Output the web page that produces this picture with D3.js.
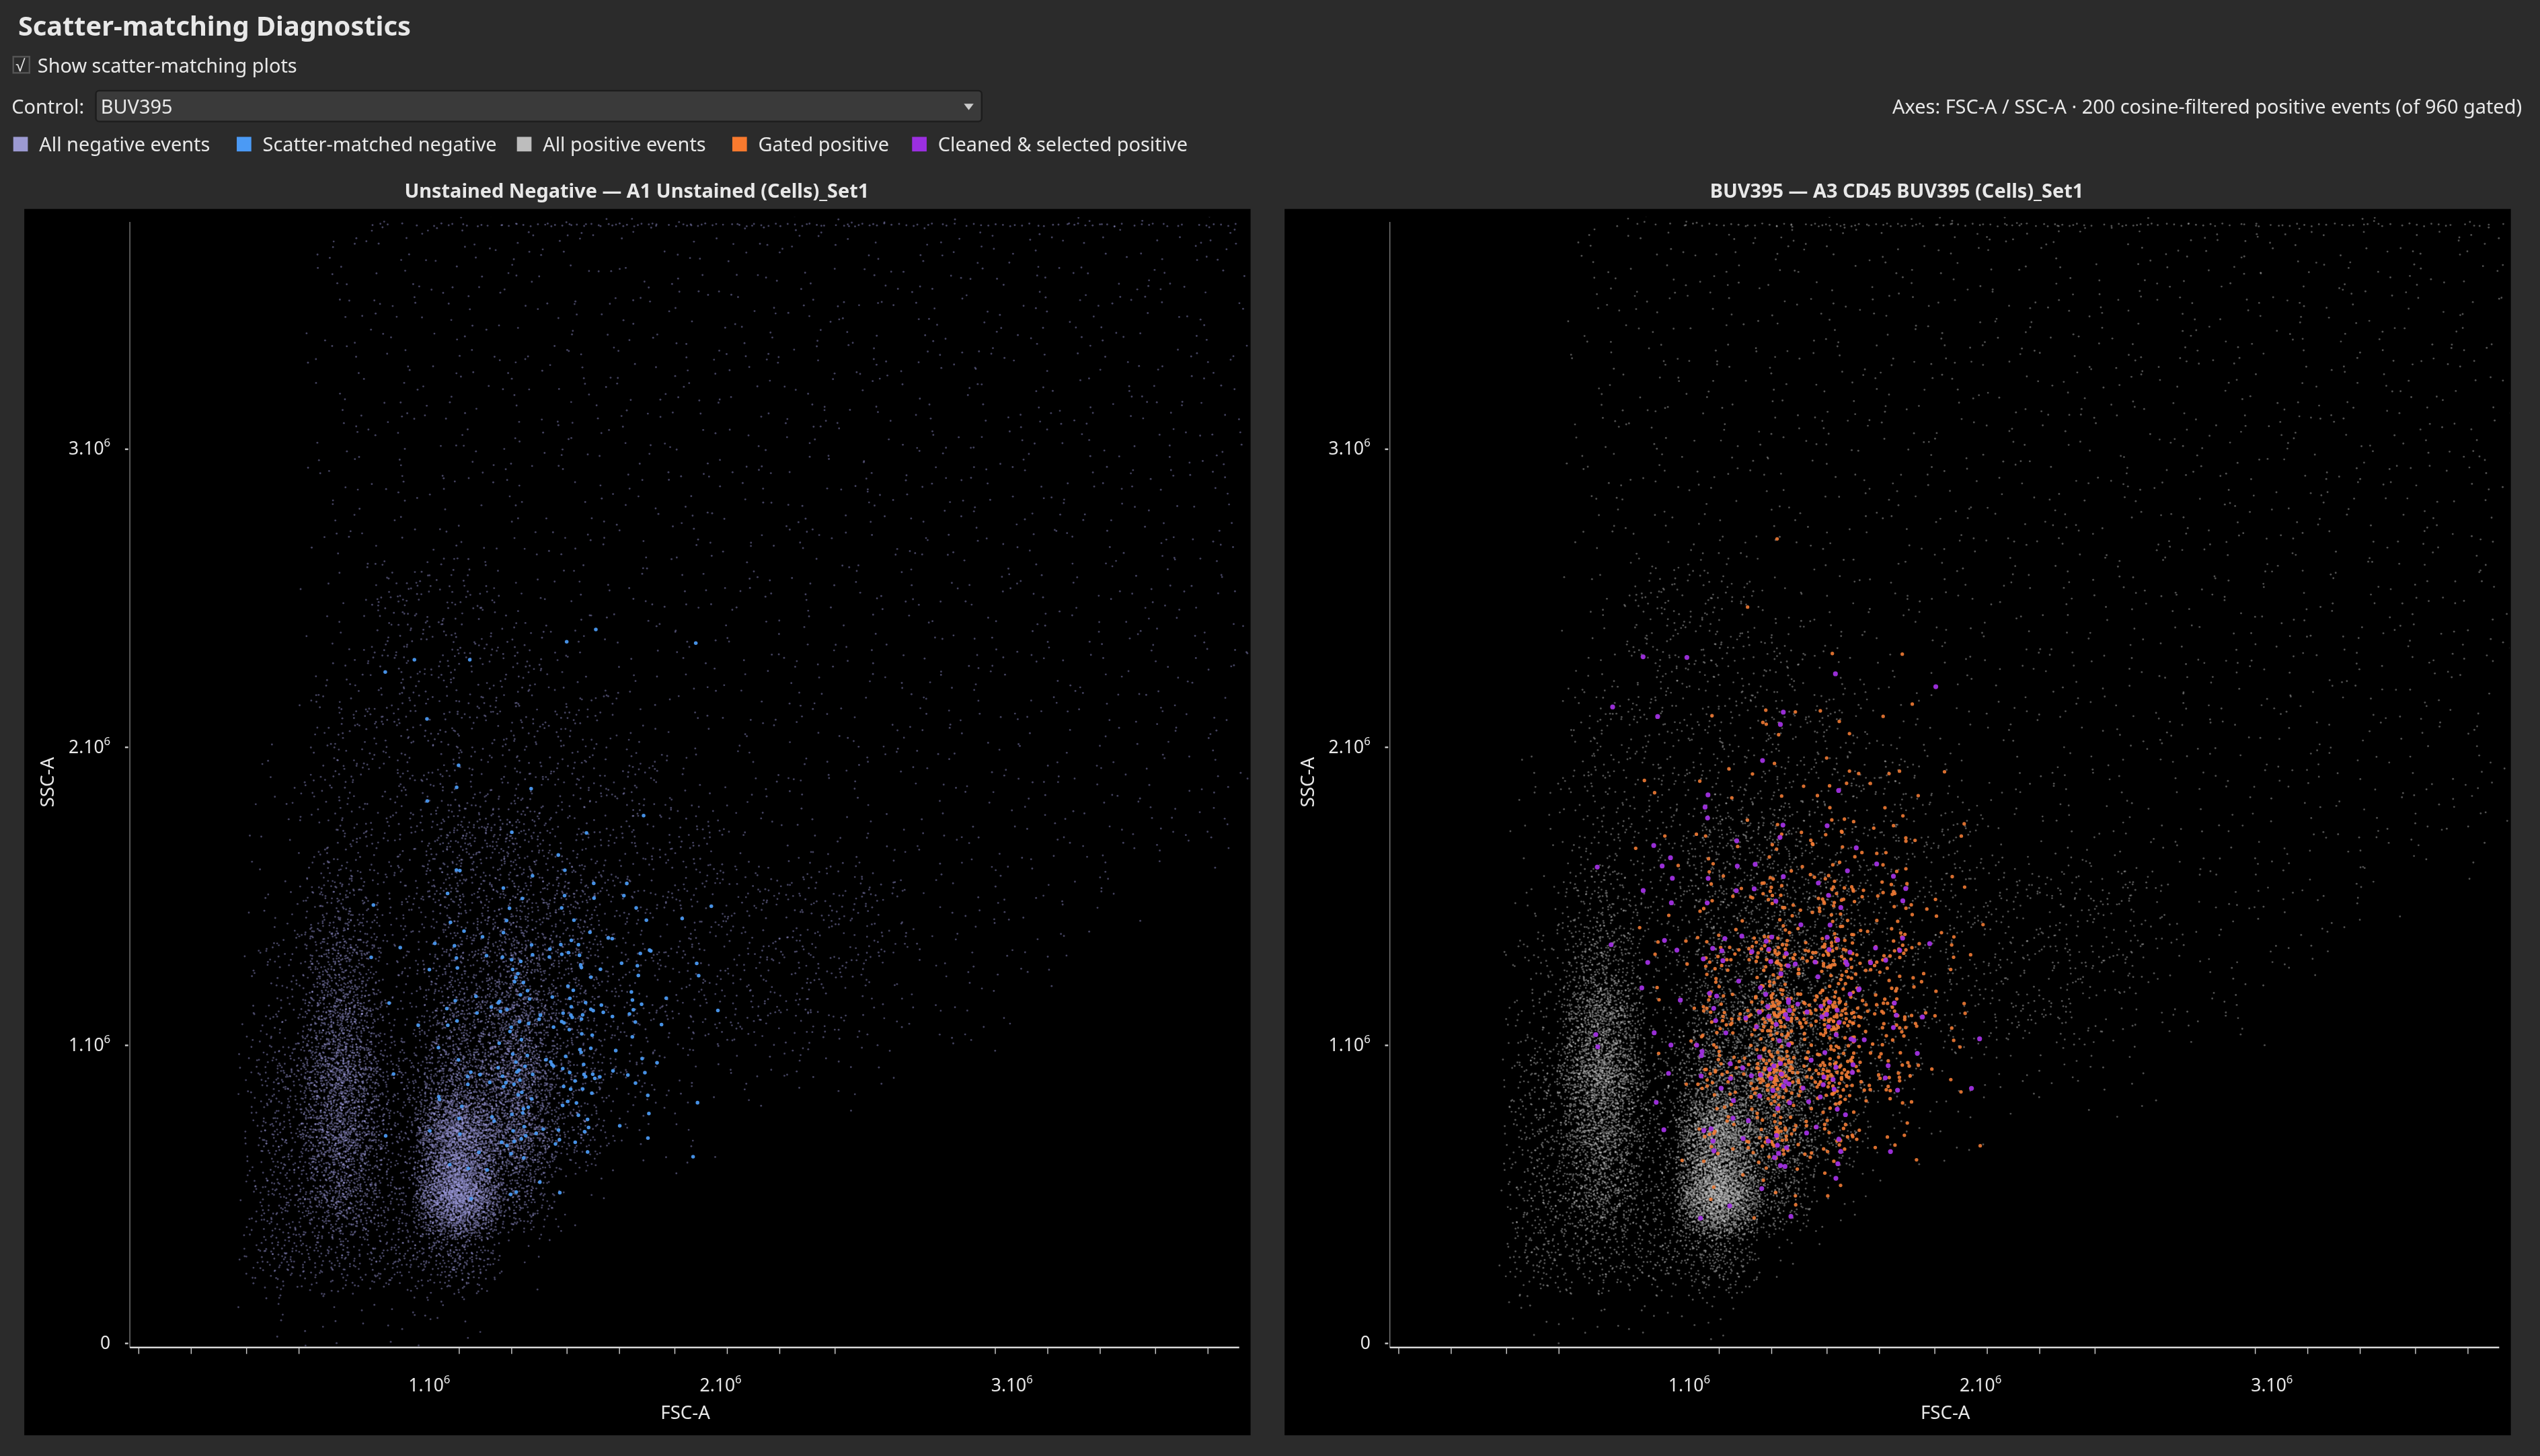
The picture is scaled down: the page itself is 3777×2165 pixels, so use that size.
<!DOCTYPE html>
<html>
<head>
<meta charset="utf-8">
<script src="https://cdn.jsdelivr.net/npm/d3@7"></script>
<style>
  body { margin: 0; background: #2b2b2b; overflow: hidden; }
  #wrap { position: relative; width: 3777px; height: 2165px; }
  canvas, svg { position: absolute; left: 0; top: 0; }
  text { font-family: "Noto Sans", "Open Sans", sans-serif; fill: #e8e8e8; }
</style>
</head>
<body>
<div id="wrap">
  <canvas id="dots" width="3777" height="2165"></canvas>
  <svg id="ui" width="3777" height="2165" viewBox="0 0 1568 899"></svg>
</div>
<script>
// axis ticks (data units, events)
const xMinorTicks = [0, 0.18e6, 0.37e6, 0.55e6, 1.1e6, 1.28e6, 1.47e6, 1.65e6, 1.84e6, 2.02e6, 2.2e6, 2.39e6, 2.94e6, 3.12e6, 3.3e6, 3.49e6, 3.67e6];
const xLabelTicks = [1, 2, 3];
const yLabelTicks = [0, 1, 2, 3];

const legendItems = ["All negative events", "Scatter-matched negative", "All positive events", "Gated positive", "Cleaned & selected positive"];
const legendColors = ["#9c9ad2", "#4b9af5", "#bdbdbd", "#f97a2e", "#9b2fe0"];

// density grids: 0.2e6 cells, rows listed from y=3.6e6 (top) down to y=0, columns x=0..3.6e6
const levelCounts = [0, 10, 45, 130, 270, 470, 750, 1150, 1700, 2500];
const negativeGrid = [
  [0,0,0,1,1,1,1,1,1,1,1,1,1,1,1,1,1,1,1],
  [0,0,0,1,1,1,1,1,1,1,1,1,1,1,1,1,1,1,1],
  [0,0,0,1,1,1,1,1,1,1,1,1,1,1,1,1,1,1,1],
  [0,0,0,1,1,1,1,1,1,1,1,1,1,1,1,1,1,1,1],
  [0,0,0,1,1,1,1,1,1,1,1,1,1,1,1,1,1,1,1],
  [0,0,0,1,1,1,1,1,1,1,1,1,1,1,1,1,1,1,1],
  [0,0,0,1,2,2,1,1,1,1,1,1,1,1,1,1,1,1,1],
  [0,0,0,1,2,2,2,1,1,1,1,1,1,1,1,1,1,1,1],
  [0,0,0,2,2,2,2,2,1,1,1,1,1,1,1,1,1,1,1],
  [0,0,1,2,2,2,2,2,2,1,1,1,1,1,1,1,1,1,1],
  [0,0,1,2,2,3,3,2,2,2,1,1,1,1,1,1,1,1,1],
  [0,0,1,3,2,3,3,3,2,2,2,2,2,1,1,1,1,0,0],
  [0,0,2,4,2,3,4,3,2,2,2,2,2,1,1,1,0,0,0],
  [0,0,2,5,2,4,5,3,2,2,2,2,1,1,1,0,0,0,0],
  [0,0,3,6,3,5,6,3,2,1,1,1,1,0,0,0,0,0,0],
  [0,0,3,6,3,8,6,3,1,1,0,0,0,0,0,0,0,0,0],
  [0,0,3,5,3,9,4,1,0,0,0,0,0,0,0,0,0,0,0],
  [0,0,3,3,3,4,1,0,0,0,0,0,0,0,0,0,0,0,0],
  [0,0,1,1,1,1,0,0,0,0,0,0,0,0,0,0,0,0,0]
];
const positiveGrid = [
  [0,0,0,1,1,1,1,1,1,1,1,1,1,1,1,1,1,1,1],
  [0,0,0,1,1,1,1,1,1,1,1,1,1,1,1,1,1,1,1],
  [0,0,0,1,1,1,1,1,1,1,1,1,1,1,1,1,1,1,1],
  [0,0,0,1,1,1,1,1,1,1,1,1,1,1,1,1,1,1,1],
  [0,0,0,1,1,1,1,1,1,1,1,1,1,1,1,1,1,1,1],
  [0,0,0,1,1,1,1,1,1,1,1,1,1,1,1,1,1,1,1],
  [0,0,0,1,2,2,1,1,1,1,1,1,1,1,1,1,1,1,1],
  [0,0,0,1,2,2,2,1,1,1,1,1,1,1,1,1,1,1,1],
  [0,0,0,2,2,2,2,2,1,1,1,1,1,1,1,1,1,1,1],
  [0,0,1,2,2,2,2,2,2,1,1,1,1,1,1,1,1,1,1],
  [0,0,1,2,2,3,3,2,2,2,1,1,1,1,1,1,1,1,1],
  [0,0,1,3,2,3,3,3,2,2,2,2,2,1,1,1,1,0,0],
  [0,0,2,4,2,3,4,3,2,2,2,2,2,1,1,1,0,0,0],
  [0,0,2,6,2,4,5,3,2,2,2,2,1,1,1,0,0,0,0],
  [0,0,3,7,3,5,6,3,2,1,1,1,1,0,0,0,0,0,0],
  [0,0,3,6,3,8,5,3,1,1,0,0,0,0,0,0,0,0,0],
  [0,0,3,5,3,9,4,1,0,0,0,0,0,0,0,0,0,0,0],
  [0,0,3,3,3,4,1,0,0,0,0,0,0,0,0,0,0,0,0],
  [0,0,1,1,1,1,0,0,0,0,0,0,0,0,0,0,0,0,0]
];
// saturated events along top edge, per 0.2e6 column
const topEdgeCounts = [0,0,0,0,4,8,10,12,12,10,10,10,10,8,8,8,8,8,6];

// highlighted events: counts per 0.2e6 cell, columns x=0.6e6..1.8e6
const highlightCols = [0.6e6, 0.8e6, 1.0e6, 1.2e6, 1.4e6, 1.6e6, 1.8e6];
const matchedRowsY = [2.2e6, 2.0e6, 1.8e6, 1.6e6, 1.4e6, 1.2e6, 1.0e6, 0.8e6, 0.6e6, 0.4e6];
const matchedCounts = [
  [0,2,1,0,2,0,1],
  [0,1,0,0,0,0,0],
  [0,0,2,1,0,0,0],
  [0,0,2,1,2,1,0],
  [0,1,3,5,6,4,2],
  [0,3,6,12,12,8,2],
  [0,2,6,16,20,10,2],
  [0,1,8,20,22,8,1],
  [0,1,6,16,10,3,1],
  [0,0,2,4,1,0,0]
];
const gatedRowsY = [2.6e6, 2.4e6, 2.2e6, 2.0e6, 1.8e6, 1.6e6, 1.4e6, 1.2e6, 1.0e6, 0.8e6, 0.6e6, 0.4e6];
const gatedCounts = [
  [0,0,0,1,0,0,0],
  [0,0,0,1,0,0,0],
  [0,0,0,0,1,1,0],
  [0,0,1,5,3,2,0],
  [0,2,3,4,6,4,1],
  [0,2,4,8,14,10,2],
  [0,3,10,22,30,18,4],
  [0,3,22,55,60,30,8],
  [0,2,30,90,90,35,6],
  [0,1,30,100,80,25,4],
  [0,1,15,50,25,6,1],
  [0,0,3,6,3,0,0]
];
const selectedRowsY = [2.2e6, 2.0e6, 1.8e6, 1.6e6, 1.4e6, 1.2e6, 1.0e6, 0.8e6, 0.6e6, 0.4e6];
const selectedCounts = [
  [0,1,1,0,1,0,1],
  [1,1,0,2,0,0,0],
  [0,0,2,1,1,0,0],
  [0,2,2,2,2,0,0],
  [1,4,4,4,4,4,0],
  [1,3,6,10,10,5,1],
  [2,4,8,14,12,5,1],
  [0,2,8,16,12,4,1],
  [0,1,6,10,6,1,0],
  [0,0,2,3,1,0,0]
];

const S = 3777 / 1568;
const CELL = 0.2e6;
const svg = d3.select("#ui");
const ctx = document.getElementById("dots").getContext("2d");
ctx.scale(S, S);

function halton(i, b) {
  let f = 1, r = 0;
  while (i > 0) { f /= b; r += f * (i % b); i = Math.floor(i / b); }
  return r;
}

// spread a cell's events around its centre (triangular kernel, k = half-width in cells)
function cellEvents(x0, y0, n, seed, k) {
  const pts = [];
  for (let j = 0; j < n; j++) {
    const i = seed + j + 1;
    const dx = (halton(i, 2) + halton(i, 3) - 1) * CELL * k;
    const dy = (halton(i, 5) + halton(i, 7) - 1) * CELL * k;
    pts.push([x0 + CELL / 2 + dx, y0 + CELL / 2 + dy]);
  }
  return pts;
}

function drawDots(pts, x, y, color, r, alpha) {
  ctx.fillStyle = color;
  ctx.globalAlpha = alpha;
  pts.forEach(p => {
    ctx.beginPath();
    ctx.arc(x(p[0]), y(p[1]), r, 0, 2 * Math.PI);
    ctx.fill();
  });
  ctx.globalAlpha = 1;
}

function gridEvents(grid, seed) {
  let pts = [];
  grid.forEach((row, ri) => {
    const y0 = (grid.length - 1 - ri) * CELL;
    row.forEach((lvl, ci) => {
      const n = levelCounts[lvl];
      pts = pts.concat(cellEvents(ci * CELL, y0, n, seed, 0.8));
      seed += n + 17;
    });
  });
  return pts;
}

function countEvents(counts, rowsY, seed) {
  let pts = [];
  counts.forEach((row, ri) => {
    row.forEach((n, ci) => {
      pts = pts.concat(cellEvents(highlightCols[ci], rowsY[ri], n, seed, 0.6));
      seed += n + 31;
    });
  });
  return pts;
}

// header
svg.append("text").attr("x", 11).attr("y", 22).attr("font-size", 16.5).attr("font-weight", 700).text("Scatter-matching Diagnostics");
svg.append("rect").attr("x", 8).attr("y", 35).attr("width", 10).attr("height", 10).attr("fill", "#2b2b2b").attr("stroke", "#555");
svg.append("text").attr("x", 9.5).attr("y", 44).attr("font-size", 10).text("\u221A");
svg.append("text").attr("x", 23).attr("y", 45).attr("font-size", 12).text("Show scatter-matching plots");
svg.append("text").attr("x", 7).attr("y", 70).attr("font-size", 12).text("Control:");
svg.append("rect").attr("x", 59).attr("y", 56).attr("width", 547).attr("height", 19).attr("rx", 2).attr("fill", "#3a3a3a").attr("stroke", "#1c1c1c");
svg.append("text").attr("x", 62).attr("y", 70).attr("font-size", 12).text("BUV395");
svg.append("path").attr("d", "M595,64 L601,64 L598,68 Z").attr("fill", "#ccc");
svg.append("text").attr("x", 1557).attr("y", 70).attr("text-anchor", "end").attr("font-size", 12)
  .text("Axes: FSC-A / SSC-A  \u00B7  200 cosine-filtered positive events (of 960 gated)");

const legendX = [8, 146, 319, 452, 563];
legendItems.forEach((t, i) => {
  svg.append("rect").attr("x", legendX[i]).attr("y", 84.5).attr("width", 9).attr("height", 9).attr("fill", legendColors[i]);
  svg.append("text").attr("x", legendX[i] + 16).attr("y", 93.5).attr("font-size", 12).text(t);
});

function panel(px, title, layers) {
  const x = d3.scaleLinear().domain([0, 3.78e6]).range([px + 70, px + 750]);
  const y = d3.scaleLinear().domain([0, 3.76e6]).range([829, 137]);

  ctx.fillStyle = "#000";
  ctx.fillRect(px, 129, 757, 757);
  svg.append("text").attr("x", px + 378).attr("y", 122).attr("text-anchor", "middle")
    .attr("font-size", 12).attr("font-weight", 700).text(title);

  ctx.save();
  ctx.beginPath();
  ctx.rect(px + 66, 134, 690, 697);
  ctx.clip();
  layers.forEach(l => drawDots(l.pts, x, y, l.color, l.r, l.alpha));
  ctx.restore();

  // axes
  svg.append("line").attr("x1", px + 65).attr("x2", px + 65).attr("y1", 137).attr("y2", 832).attr("stroke", "#777").attr("stroke-width", 0.6);
  const gx = svg.append("g").attr("transform", `translate(0,832)`)
    .call(d3.axisBottom(x).tickValues(xMinorTicks).tickSize(4).tickFormat(""));
  gx.select(".domain").attr("d", `M${px + 65},0H${px + 750}`).attr("stroke", "#eee");
  gx.selectAll("line").attr("stroke", "#ccc").attr("stroke-width", 0.6);
  const gy = svg.append("g").attr("transform", `translate(${px + 64},0)`)
    .call(d3.axisLeft(y.copy().domain([0, 3.76])).tickValues(yLabelTicks).tickSize(2).tickFormat(""));
  gy.select(".domain").remove();
  gy.selectAll("line").attr("stroke", "#ccc");

  xLabelTicks.forEach(v => {
    const t = svg.append("text").attr("x", x(v * 1e6)).attr("y", 859).attr("text-anchor", "middle").attr("font-size", 11);
    t.append("tspan").text(`${v}.10`);
    t.append("tspan").attr("dy", -5).attr("font-size", 7).text("6");
  });
  yLabelTicks.forEach(v => {
    const t = svg.append("text").attr("x", px + 53).attr("y", y(v * 1e6) + 4).attr("text-anchor", "end").attr("font-size", 11);
    if (v === 0) { t.text("0"); return; }
    t.append("tspan").text(`${v}.10`);
    t.append("tspan").attr("dy", -5).attr("font-size", 7).text("6");
  });
  svg.append("text").attr("x", px + 408).attr("y", 876).attr("text-anchor", "middle").attr("font-size", 11.5).text("FSC-A");
  svg.append("text").attr("transform", `translate(${px + 18},483) rotate(-90)`).attr("text-anchor", "middle").attr("font-size", 11.5).text("SSC-A");
}

function topEdge(seed) {
  const pts = [];
  topEdgeCounts.forEach((n, ci) => {
    for (let k = 0; k < n; k++) {
      const i = seed + ci * 20 + k + 1;
      pts.push([ci * CELL + halton(i, 2) * CELL, 3.755e6 - halton(i, 3) * 0.01e6]);
    }
  });
  return pts;
}

panel(15, "Unstained Negative \u2014 A1 Unstained (Cells)_Set1", [
  { pts: gridEvents(negativeGrid, 0).concat(topEdge(0)), color: "#a09ee0", r: 0.6, alpha: 0.42 },
  { pts: countEvents(matchedCounts, matchedRowsY, 500), color: "#4a98f0", r: 1.15, alpha: 0.95 }
]);
panel(793, "BUV395 \u2014 A3 CD45 BUV395 (Cells)_Set1", [
  { pts: gridEvents(positiveGrid, 90000).concat(topEdge(900)), color: "#c8c8c8", r: 0.6, alpha: 0.4 },
  { pts: countEvents(gatedCounts, gatedRowsY, 3000), color: "#f07a34", r: 1.1, alpha: 0.9 },
  { pts: countEvents(selectedCounts, selectedRowsY, 8000), color: "#a030e0", r: 1.5, alpha: 0.95 }
]);
</script>
</body>
</html>
